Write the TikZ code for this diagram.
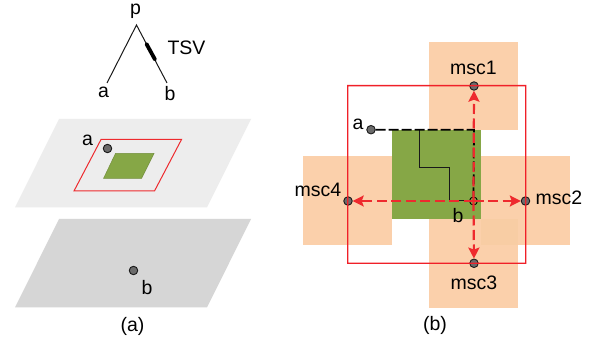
\documentclass[tikz,border=0pt]{standalone}
\usepackage{fontspec}
\setmainfont{Liberation Sans}
\usetikzlibrary{arrows.meta}
\definecolor{peach}{HTML}{FBD0AB}
\definecolor{peachb}{HTML}{F8CDA4}
\definecolor{leaf}{HTML}{86A746}
\definecolor{rd}{HTML}{EE2A2E}
\definecolor{rdb}{HTML}{F02028}
\tikzset{
 lbl/.style={inner sep=0pt,font=\fontsize{19.5}{21}\selectfont,text=black},
 dot/.style={circle,draw=black!90,fill=black!58,line width=0.9pt,minimum size=8.5pt,inner sep=0pt},
 msc/.style={fill=peach},
 wire/.style={draw=black!90,line width=1pt},
 route/.style={draw=rd,line width=2.2pt,dash pattern=on 10pt off 4.5pt,-{Stealth[length=11pt,width=11pt,inset=2pt]}}
}
\begin{document}
\begin{tikzpicture}[x=1pt,y=-1pt]
\useasboundingbox (0,0) rectangle (595,347);
\fill[white] (0,0) rectangle (595,347);
% (b) regions
\fill[msc] (303,156) rectangle (392.3,244.7);
\fill[msc] (481,156) rectangle (570,244.7);
\fill[msc] (429,41.7) rectangle (518,130);
\fill[msc] (429,218.7) rectangle (518,307.7);
\fill[peachb] (481,218.7) rectangle (518,244.7);
\fill[leaf] (392,130) rectangle (481,219);
% (a) planes
\fill[black!7] (59,119) -- (251,119) -- (207,207.5) -- (15,207.5) -- cycle;
\fill[black!16] (59,219) -- (251,219) -- (207,307.5) -- (15,307.5) -- cycle;
\draw[rd,line width=1pt] (101,139.5) -- (181.5,139.5) -- (154.5,191) -- (74,191) -- cycle;
\draw[fill=leaf,draw=leaf!85!black,line width=0.5pt] (115.5,153.5) -- (154,153.5) -- (141.5,178.5) -- (103.5,178.5) -- cycle;
% (a) tree
\coordinate (top) at (136.5,25);
\coordinate (aend) at (107,83);
\coordinate (bend) at (167,83);
\coordinate (tsvs) at (146.5,44);
\coordinate (tsve) at (155,59.5);
\node[lbl] (pl) at (135.5,11) {p};
\node[lbl] (tsv) at (186.5,47.5) {TSV};
\node[lbl] (al) at (103.5,92) {a};
\node[lbl] (bl) at (170,94) {b};
\draw[wire] (aend) -- (top) -- (bend);
\draw[black,line width=3.8pt,line cap=round] (tsvs) -- (tsve);
\node[dot] (adot) at (107.5,148.5) {};
\node[dot] (bdot) at (133.5,270.5) {};
\node[lbl] (a2) at (87.5,140) {a};
\node[lbl] (b2) at (147,288) {b};
\node[lbl] (cap1) at (132.5,326) {(a)};
% (b) pins
\node[dot] (ma) at (371,129.7) {};
\node[circle,draw=black,line width=0.9pt,minimum size=8pt,inner sep=0pt] (mb) at (473.5,201) {};
\node[dot] (m1) at (474,86) {};
\node[dot] (m2) at (525.5,201) {};
\node[dot] (m3) at (474,263.3) {};
\node[dot] (m4) at (348,201) {};
\coordinate (c1) at (474,129.7);
\coordinate (w1) at (419,129.7);
\coordinate (w2) at (419,168);
\coordinate (w3) at (449,168);
\coordinate (w4) at (449,201);
% wires
\draw[wire] (w1) -- (w2) -- (w3) -- (w4) -- (mb);
\draw[draw=black,line width=1.8pt,dash pattern=on 10pt off 3pt] (ma) -- (c1) -- (mb);
% routes
\draw[route] (mb.center) -- (m1);
\draw[route] (mb.center) -- (m3);
\draw[route] (mb.center) -- (m2);
\draw[route] (mb.center) -- (m4);
% (b) labels
\node[lbl] (t1) at (473.5,68) {msc1};
\node[lbl] (t2) at (559,197.5) {msc2};
\node[lbl] (t3) at (474,283) {msc3};
\node[lbl] (t4) at (318,189.5) {msc4};
\node[lbl] (ta) at (358,124) {a};
\node[lbl] (tb) at (458,216) {b};
\node[lbl] (cap2) at (435,325) {(b)};
% frame, last on the page
\fill[rdb,even odd rule] (347,85) rectangle (526.4,264) (348.3,86.3) rectangle (525.1,262.7);
\end{tikzpicture}
\end{document}
